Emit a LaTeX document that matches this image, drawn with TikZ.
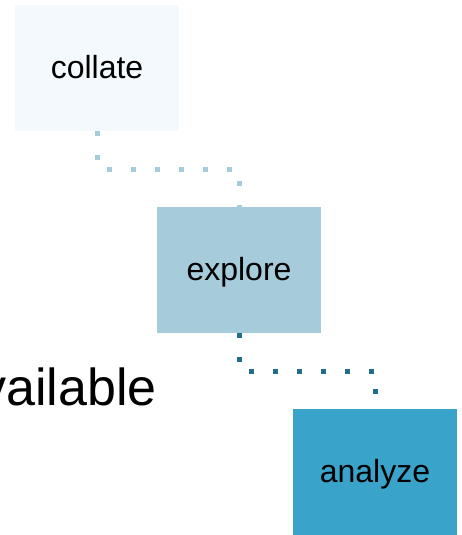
\documentclass[tikz,border=0pt]{standalone}
\usepackage{fontspec}
\setmainfont{Liberation Sans}
\usetikzlibrary{calc}

\definecolor{stageA}{HTML}{F4F9FD}
\definecolor{stageB}{HTML}{A6CBDA}
\definecolor{stageC}{HTML}{3AA3CA}
\definecolor{linkdark}{HTML}{1F6E8C}

\tikzset{
    stage/.style={fill=#1, minimum width=164, minimum height=126, inner sep=0pt,
        text height=24pt, text depth=4pt, font=\fontsize{32}{38}\selectfont},
    link/.style={draw=#1, line width=5pt, dash pattern=on 5pt off 19pt},
}

\begin{document}
\begin{tikzpicture}[x=1pt,y=-1pt]
    \useasboundingbox (0,0) rectangle (461,535);
    \clip (0,0) rectangle (461,535);
    % text running off the left edge
    \node[anchor=base east, inner sep=0pt, font=\fontsize{52}{62}\selectfont] (label) at (157,405) {available};
    % the three stages
    \node[stage=stageA] (collate) at (97,68) {collate};
    \node[stage=stageB] (explore) at (239,270) {explore};
    \node[stage=stageC] (analyze) at (375,472) {analyze};
    % dotted links, bent half way down
    \draw[link=stageB] (collate.south) -- ($(collate.south)!0.5!(collate.south |- explore.north)$) -| (explore.north);
    \draw[link=linkdark] (explore.south) -- ($(explore.south)!0.5!(explore.south |- analyze.north)$) -| (analyze.north);
\end{tikzpicture}
\end{document}
